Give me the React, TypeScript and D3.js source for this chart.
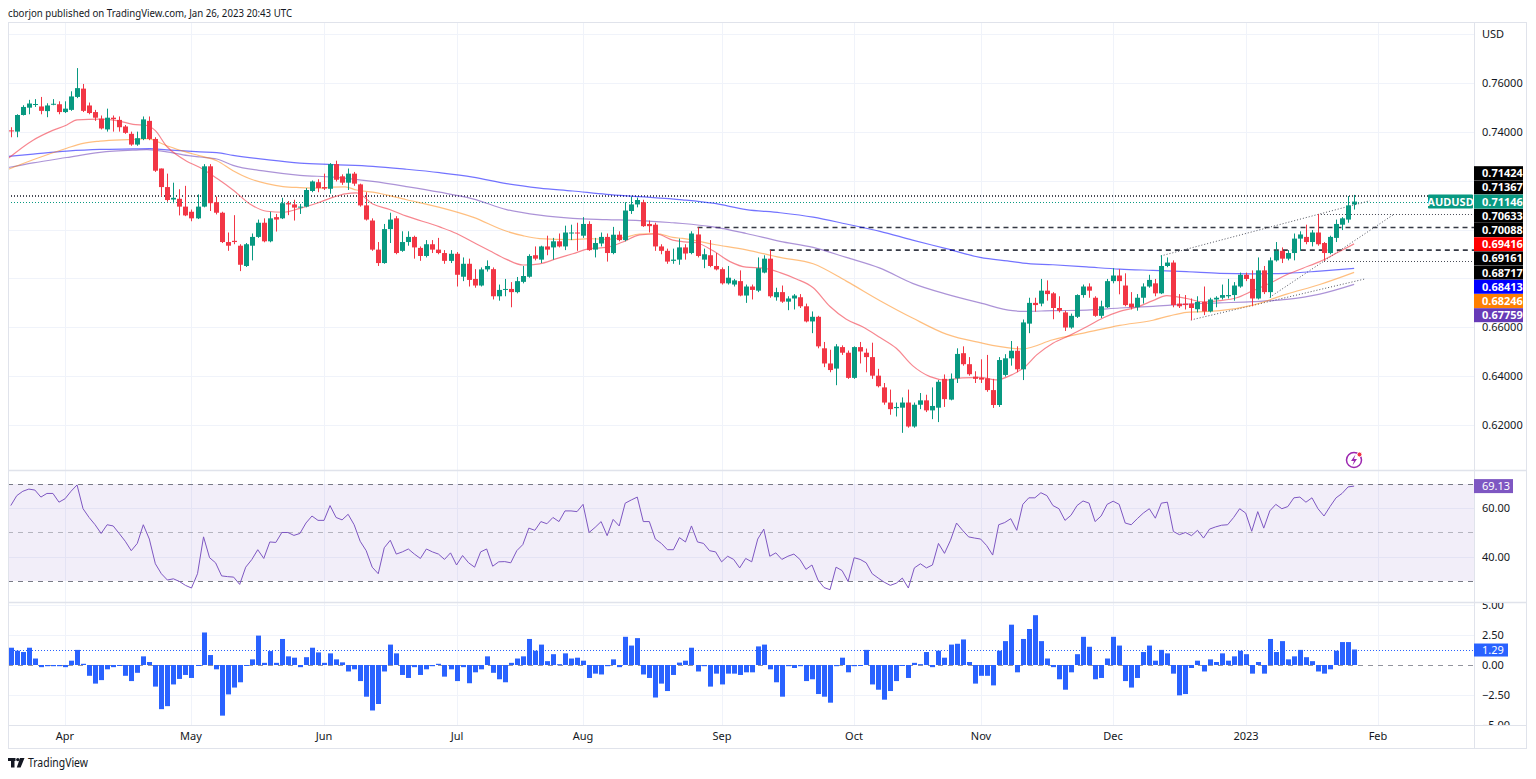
import React from 'react';
import * as d3 from 'd3';

// ---------------- DATA ----------------
const opens = [
0.7406,0.7401,0.7469,0.7499,0.7512,0.7504,0.7485,0.7512,0.7513,0.7481,
0.7490,0.7543,0.7577,0.7508,0.7481,0.7454,0.7410,0.7458,0.7449,0.7422,
0.7392,0.7348,0.7371,0.7445,0.7371,0.7250,0.7174,0.7123,0.7126,0.7094,
0.7073,0.7046,0.7094,0.7259,0.7112,0.7069,0.6949,0.6954,0.6934,0.6851,
0.6934,0.6970,0.7028,0.6952,0.7051,0.7046,0.7108,0.7103,0.7091,0.7094,
0.7158,0.7194,0.7174,0.7167,0.7268,0.7218,0.7192,0.7229,0.7185,0.7099,
0.7037,0.6918,0.6863,0.7002,0.7046,0.6913,0.6949,0.6970,0.6925,0.6892,
0.6940,0.6918,0.6904,0.6872,0.6901,0.6807,0.6860,0.6798,0.6771,0.6837,
0.6838,0.6727,0.6755,0.6757,0.6744,0.6786,0.6807,0.6895,0.6877,0.6931,
0.6927,0.6952,0.6931,0.6985,0.6988,0.6975,0.7023,0.6918,0.6943,0.6970,
0.6904,0.6979,0.6957,0.7076,0.7103,0.7112,0.7023,0.7020,0.6931,0.6913,
0.6872,0.6877,0.6927,0.6904,0.6980,0.6877,0.6895,0.6851,0.6838,0.6780,
0.6775,0.6789,0.6730,0.6767,0.6750,0.6824,0.6881,0.6723,0.6744,0.6705,
0.6718,0.6723,0.6686,0.6624,0.6643,0.6514,0.6452,0.6431,0.6519,0.6496,
0.6393,0.6519,0.6496,0.6478,0.6402,0.6354,0.6292,0.6269,0.6271,0.6292,
0.6194,0.6283,0.6301,0.6260,0.6271,0.6389,0.6304,0.6391,0.6494,0.6449,
0.6398,0.6393,0.6391,0.6343,0.6282,0.6405,0.6473,0.6504,0.6428,0.6615,
0.6700,0.6697,0.6750,0.6739,0.6679,0.6661,0.6599,0.6643,0.6732,0.6767,
0.6721,0.6647,0.6682,0.6789,0.6812,0.6771,0.6697,0.6682,0.6721,0.6767,
0.6780,0.6739,0.6851,0.6865,0.6697,0.6697,0.6697,0.6674,0.6704,0.6665,
0.6714,0.6721,0.6727,0.6732,0.6767,0.6815,0.6798,0.6718,0.6833,0.6744,
0.6874,0.6913,0.6881,0.6904,0.6963,0.6970,0.6949,0.6988,0.6945,0.6904,
0.6966,0.7020,0.7041,0.7103];

const highs = [
0.7419,0.7472,0.7509,0.7531,0.7534,0.7543,0.7517,0.7534,0.7525,0.7525,
0.7566,0.7661,0.7596,0.7520,0.7490,0.7467,0.7495,0.7467,0.7463,0.7428,
0.7401,0.7401,0.7463,0.7463,0.7378,0.7250,0.7229,0.7192,0.7165,0.7179,
0.7082,0.7144,0.7268,0.7268,0.7135,0.7073,0.6988,0.7059,0.6940,0.6945,
0.6984,0.7041,0.7046,0.7073,0.7064,0.7130,0.7117,0.7122,0.7105,0.7170,
0.7201,0.7206,0.7229,0.7272,0.7282,0.7226,0.7250,0.7236,0.7188,0.7153,
0.7046,0.6949,0.7023,0.7069,0.7055,0.6993,0.6993,0.6975,0.6931,0.6957,
0.6957,0.6966,0.6916,0.6916,0.6908,0.6886,0.6881,0.6838,0.6845,0.6874,
0.6845,0.6775,0.6798,0.6785,0.6806,0.6851,0.6899,0.6931,0.6934,0.6975,
0.6966,0.6984,0.7016,0.7020,0.7028,0.7051,0.7034,0.6966,0.6988,0.6984,
0.7011,0.6993,0.7112,0.7135,0.7131,0.7122,0.7037,0.7028,0.6940,0.6922,
0.6922,0.6963,0.6940,0.6993,0.7009,0.6922,0.6957,0.6904,0.6845,0.6851,
0.6798,0.6833,0.6775,0.6775,0.6886,0.6895,0.6916,0.6762,0.6771,0.6727,
0.6736,0.6736,0.6697,0.6665,0.6647,0.6540,0.6508,0.6531,0.6526,0.6505,
0.6522,0.6540,0.6513,0.6537,0.6430,0.6372,0.6345,0.6292,0.6313,0.6345,
0.6292,0.6331,0.6324,0.6354,0.6384,0.6407,0.6411,0.6514,0.6522,0.6478,
0.6420,0.6469,0.6487,0.6389,0.6478,0.6490,0.6544,0.6522,0.6632,0.6721,
0.6721,0.6798,0.6792,0.6744,0.6727,0.6668,0.6656,0.6735,0.6775,0.6780,
0.6727,0.6709,0.6798,0.6842,0.6838,0.6821,0.6744,0.6736,0.6780,0.6815,
0.6798,0.6895,0.6886,0.6874,0.6736,0.6732,0.6718,0.6727,0.6767,0.6721,
0.6727,0.6775,0.6798,0.6785,0.6824,0.6824,0.6833,0.6886,0.6851,0.6886,
0.6949,0.6927,0.6916,0.6984,0.6993,0.7020,0.6998,0.7064,0.6949,0.6975,
0.7041,0.7051,0.7137,0.7142];

const lows = [
0.7378,0.7378,0.7467,0.7472,0.7502,0.7472,0.7460,0.7509,0.7472,0.7477,
0.7486,0.7538,0.7481,0.7472,0.7445,0.7410,0.7401,0.7401,0.7401,0.7392,
0.7343,0.7343,0.7366,0.7366,0.7236,0.7135,0.7114,0.7108,0.7058,0.7055,
0.7034,0.7043,0.7091,0.7076,0.7062,0.6945,0.6913,0.6940,0.6830,0.6847,
0.6874,0.6966,0.6948,0.6948,0.6992,0.7043,0.7059,0.7037,0.7064,0.7091,
0.7153,0.7153,0.7162,0.7147,0.7197,0.7183,0.7162,0.7179,0.7094,0.7037,
0.6913,0.6851,0.6860,0.6945,0.6899,0.6909,0.6934,0.6881,0.6872,0.6886,
0.6904,0.6899,0.6860,0.6863,0.6767,0.6789,0.6767,0.6762,0.6767,0.6828,
0.6714,0.6709,0.6727,0.6682,0.6739,0.6780,0.6803,0.6874,0.6863,0.6895,
0.6877,0.6927,0.6916,0.6957,0.6913,0.6966,0.6913,0.6886,0.6931,0.6869,
0.6899,0.6952,0.6952,0.7064,0.7091,0.7011,0.6988,0.6913,0.6899,0.6860,
0.6860,0.6856,0.6877,0.6899,0.6886,0.6842,0.6846,0.6833,0.6775,0.6775,
0.6767,0.6727,0.6700,0.6714,0.6744,0.6821,0.6721,0.6709,0.6700,0.6670,
0.6673,0.6679,0.6620,0.6576,0.6514,0.6437,0.6416,0.6363,0.6487,0.6389,
0.6389,0.6452,0.6416,0.6389,0.6354,0.6283,0.6242,0.6235,0.6168,0.6189,
0.6189,0.6265,0.6253,0.6224,0.6212,0.6274,0.6301,0.6372,0.6443,0.6402,
0.6372,0.6372,0.6336,0.6270,0.6274,0.6398,0.6443,0.6416,0.6384,0.6576,
0.6664,0.6686,0.6709,0.6633,0.6661,0.6585,0.6594,0.6638,0.6721,0.6721,
0.6643,0.6638,0.6679,0.6780,0.6735,0.6686,0.6673,0.6668,0.6697,0.6762,
0.6727,0.6736,0.6846,0.6682,0.6679,0.6673,0.6629,0.6661,0.6650,0.6661,
0.6682,0.6714,0.6718,0.6709,0.6762,0.6789,0.6686,0.6714,0.6736,0.6721,
0.6869,0.6863,0.6874,0.6874,0.6913,0.6940,0.6931,0.6934,0.6872,0.6899,
0.6949,0.6998,0.7028,0.7082];

const closes = [
0.7404,0.7469,0.7502,0.7516,0.7514,0.7486,0.7508,0.7515,0.7481,0.7495,
0.7545,0.7579,0.7486,0.7477,0.7458,0.7414,0.7458,0.7452,0.7419,0.7396,
0.7348,0.7374,0.7451,0.7371,0.7241,0.7174,0.7121,0.7130,0.7094,0.7058,
0.7046,0.7094,0.7259,0.7108,0.7069,0.6949,0.6934,0.6949,0.6856,0.6940,
0.6970,0.7028,0.6952,0.7046,0.7041,0.7108,0.7103,0.7090,0.7094,0.7162,
0.7197,0.7170,0.7168,0.7268,0.7204,0.7192,0.7229,0.7188,0.7099,0.7041,
0.6918,0.6863,0.7002,0.7041,0.6904,0.6949,0.6970,0.6927,0.6892,0.6940,
0.6918,0.6904,0.6872,0.6901,0.6815,0.6860,0.6794,0.6771,0.6837,0.6851,
0.6727,0.6753,0.6757,0.6744,0.6789,0.6810,0.6892,0.6881,0.6931,0.6918,
0.6952,0.6931,0.6988,0.6988,0.6984,0.7023,0.6916,0.6945,0.6970,0.6904,
0.6979,0.6957,0.7078,0.7103,0.7121,0.7014,0.7014,0.6931,0.6913,0.6869,
0.6877,0.6927,0.6902,0.6984,0.6892,0.6899,0.6851,0.6837,0.6780,0.6803,
0.6792,0.6730,0.6767,0.6753,0.6842,0.6881,0.6727,0.6744,0.6705,0.6718,
0.6730,0.6686,0.6624,0.6643,0.6522,0.6452,0.6425,0.6522,0.6496,0.6393,
0.6519,0.6501,0.6478,0.6402,0.6359,0.6292,0.6265,0.6274,0.6292,0.6194,
0.6283,0.6301,0.6260,0.6278,0.6377,0.6306,0.6389,0.6491,0.6449,0.6408,
0.6389,0.6386,0.6343,0.6282,0.6466,0.6473,0.6504,0.6428,0.6620,0.6700,
0.6691,0.6750,0.6736,0.6679,0.6668,0.6599,0.6647,0.6732,0.6767,0.6750,
0.6647,0.6686,0.6789,0.6812,0.6789,0.6691,0.6682,0.6721,0.6767,0.6794,
0.6739,0.6851,0.6865,0.6691,0.6686,0.6691,0.6679,0.6704,0.6665,0.6714,
0.6721,0.6732,0.6732,0.6771,0.6815,0.6798,0.6718,0.6833,0.6744,0.6874,
0.6913,0.6881,0.6904,0.6963,0.6980,0.6949,0.6988,0.6940,0.6904,0.6970,
0.7023,0.7046,0.7099,0.71146];

// moving averages sampled along the bars: [bar index, value]
const maRed: [number, number][] = [
[-0.5,0.7290],[3.7,0.7366],[6.5,0.7401],[9.3,0.7428],[11,0.7449],[14.8,0.7452],[17.6,0.7446],[20.3,0.7431],[22.6,0.7426],[24,0.7405],
[25.9,0.7340],[27.6,0.7305],[29.2,0.7280],[31.4,0.7254],[34.2,0.7210],[37,0.7160],[39.7,0.7105],[42.5,0.7075],[45.3,0.7071],[48,0.7087],
[50.8,0.7108],[53.6,0.7133],[55.5,0.7146],[57.4,0.7150],[60.1,0.7105],[62.9,0.7082],[65.7,0.7055],[71.2,0.7011],[74,0.6984],[76.7,0.6949],
[79.5,0.6913],[82.3,0.6878],[85,0.6855],[87.8,0.6860],[90.6,0.6881],[93.3,0.6901],[96.1,0.6922],[98.9,0.6927],[101.6,0.6949],[104.4,0.6978],
[107.2,0.6982],[109.9,0.6957],[111.9,0.6950],[113.8,0.6946],[116.6,0.6913],[119.4,0.6869],[122.1,0.6846],[124.9,0.6842],[127.7,0.6824],[130.4,0.6798],
[133.2,0.6762],[136,0.6685],[138.7,0.6633],[141.4,0.6602],[144.3,0.6558],[147,0.6514],[149.7,0.6443],[152.6,0.6398],[155.3,0.6384],[158,0.6393],
[160.9,0.6395],[163.6,0.6385],[166.3,0.6407],[168.3,0.6437],[170.3,0.6487],[173,0.6535],[175.8,0.6567],[178.6,0.6602],[181.3,0.6638],[184.1,0.6665],
[186.9,0.6682],[189.6,0.6709],[191.9,0.6730],[195.2,0.6718],[197.9,0.6704],[200.7,0.6709],[203.5,0.6721],[206.2,0.6750],[209,0.6780],[211.8,0.6815],
[214.5,0.6842],[217.3,0.6869],[220.1,0.6904],[223,0.69416]];

const maOrange: [number, number][] = [
[-0.4,0.7247],[3.7,0.7286],[9.3,0.7333],[12,0.7353],[14.8,0.7362],[20.3,0.7369],[22.6,0.7372],[25.9,0.7343],[28.6,0.7321],[31.4,0.7302],
[34.2,0.7282],[36.9,0.7241],[39.7,0.7208],[42.5,0.7188],[45.2,0.7176],[48,0.7172],[50.8,0.7170],[53.5,0.7174],[55.5,0.7175],[57.4,0.7162],
[60.1,0.7153],[65.7,0.7122],[71.2,0.7091],[76.7,0.7051],[82.3,0.6993],[85,0.6975],[87.8,0.6963],[93.3,0.6959],[96.1,0.6963],[98.9,0.6960],
[101.6,0.6966],[104.4,0.6982],[107.2,0.6984],[109.9,0.6968],[111.5,0.6964],[116.6,0.6940],[122.1,0.6917],[127.7,0.6886],[133.2,0.6860],[138.7,0.6789],
[144.3,0.6709],[149.7,0.6638],[155.3,0.6572],[160.9,0.6537],[166.3,0.6514],[168,0.6512],[173,0.6549],[178.6,0.6579],[184.1,0.6608],[189.6,0.6629],
[192.4,0.6647],[195.2,0.6661],[200.7,0.6668],[206.2,0.6691],[211.8,0.6736],[217.3,0.6775],[223,0.68246]];

const maBlue: [number, number][] = [
[-0.4,0.7300],[3.7,0.7309],[9.3,0.7321],[14.8,0.7328],[20.3,0.7330],[23.1,0.7331],[25.9,0.7326],[31.4,0.7318],[34.2,0.7315],[36.9,0.7304],
[42.5,0.7286],[48,0.7272],[53.5,0.7266],[60.1,0.7259],[65.7,0.7247],[71.2,0.7233],[76.7,0.7215],[82.3,0.7188],[87.8,0.7170],[93.3,0.7158],
[98.9,0.7144],[104.4,0.7135],[111.5,0.7122],[116.6,0.7108],[122.1,0.7082],[127.7,0.7069],[133.2,0.7051],[138.7,0.7023],[144.3,0.6993],[149.7,0.6957],
[155.3,0.6922],[160.9,0.6886],[166.3,0.6869],[168,0.6863],[173,0.6856],[178.6,0.6847],[184.1,0.6838],[189.6,0.6833],[195.2,0.6828],[200.7,0.6821],
[206.2,0.6819],[211.8,0.6821],[217.3,0.6830],[223,0.68413]];

const maPurple: [number, number][] = [
[-0.4,0.7254],[3.7,0.7273],[9.3,0.7295],[14.8,0.7316],[20.3,0.7325],[22.6,0.7327],[25.9,0.7318],[28.6,0.7306],[31.4,0.7297],[34.2,0.7289],
[36.9,0.7263],[42.5,0.7238],[48,0.7222],[53.5,0.7215],[60.1,0.7197],[65.7,0.7176],[71.2,0.7153],[76.7,0.7126],[82.3,0.7082],[87.8,0.7059],
[93.3,0.7046],[98.9,0.7041],[104.4,0.7037],[109.9,0.7028],[111.5,0.7025],[116.6,0.7011],[122.1,0.6984],[127.7,0.6952],[133.2,0.6927],[138.7,0.6886],
[144.3,0.6842],[149.7,0.6780],[155.3,0.6736],[160.9,0.6700],[166.3,0.6668],[168,0.6665],[173,0.6668],[178.6,0.6670],[184.1,0.6679],[189.6,0.6686],
[195.2,0.6695],[200.7,0.6700],[206.2,0.6705],[211.8,0.6714],[217.3,0.6736],[223,0.67759]];

const rsi = [
61.1,65.2,67.0,67.9,67.5,64.6,66.1,66.1,62.5,63.9,
67.0,69.6,59.8,56.2,53.2,49.6,53.2,52.7,49.6,46.4,
42.5,45.5,53.2,47.3,37.1,33.0,30.4,30.9,29.8,28.2,
27.1,33.0,48.2,39.6,37.5,32.1,31.8,31.6,28.6,35.7,
38.8,42.9,39.3,46.1,45.9,50.0,50.0,48.8,49.6,53.9,
56.8,55.0,55.0,61.1,56.2,55.2,57.5,53.2,46.4,42.5,
35.7,33.0,43.7,46.8,41.1,42.0,43.2,41.1,39.3,43.2,
42.0,41.1,38.9,41.6,36.6,40.5,37.5,35.7,42.0,43.2,
36.1,37.9,38.0,37.5,42.5,45.0,51.8,50.9,54.5,53.6,
56.2,54.5,58.9,58.9,58.6,61.6,50.0,52.1,54.5,48.7,
55.4,52.7,62.1,63.4,64.6,54.5,54.5,47.3,45.5,42.9,
42.9,47.9,46.1,52.7,46.1,45.5,42.5,42.0,37.9,40.2,
38.9,35.4,39.3,37.9,47.3,51.4,40.2,41.6,38.9,40.2,
41.1,38.9,34.8,36.6,30.4,27.3,26.4,35.7,34.3,29.8,
39.6,38.9,37.5,33.0,31.2,29.5,28.2,29.1,31.2,27.1,
35.4,37.1,35.4,36.6,45.5,41.4,46.8,53.9,50.9,48.2,
47.7,47.3,44.6,40.7,53.2,54.1,55.7,50.9,61.6,64.3,
64.3,66.4,65.2,61.1,59.8,55.0,57.1,61.1,63.0,62.1,
54.5,56.8,61.6,62.9,61.6,53.9,53.2,55.7,58.0,59.8,
55.9,62.1,62.5,50.4,49.1,50.0,48.7,50.9,47.7,51.4,
52.3,53.0,53.2,56.2,59.8,58.0,50.5,58.6,51.8,58.9,
61.6,59.8,60.7,64.3,64.6,62.5,64.3,59.8,56.8,60.7,
64.3,66.1,68.8,69.13];

const hist = [
1.44,1.19,1.08,1.44,0.54,-0.18,-0.1,-0.1,-0.1,-0.18,
0.36,1.26,0.1,-0.9,-1.55,-1.26,-0.36,-0.18,-0.04,-0.9,
-1.34,-0.65,0.72,0.25,-1.8,-3.68,-3.43,-1.62,-1.16,-0.83,
-1.08,-0.04,2.71,0.83,-0.36,-4.22,-2.45,-1.88,-1.44,-0.04,
0.47,2.45,0.18,1.16,0.18,2.17,0.72,0.61,-0.18,0.65,
1.44,1.05,0.18,0.97,0.47,0.22,-0.54,-0.36,-1.34,-2.64,
-3.79,-3.25,-0.54,1.7,0.97,-0.83,-1.08,-0.18,-0.83,-0.36,
-0.1,0.1,-0.97,-0.36,-1.34,-0.18,-1.52,-0.61,-0.36,0.72,
-0.65,-1.19,-1.44,0.18,0.54,0.72,2.17,1.19,1.7,0.32,
0.9,0.07,0.97,0.54,0.61,0.36,-1.08,-0.72,-0.79,-0.1,
0.47,-0.18,2.35,1.62,2.24,-0.79,-1.08,-2.71,-1.55,-2.17,
-0.83,0.2,0.36,1.44,-0.54,-0.1,-1.8,-0.72,-1.62,-0.72,
-0.72,-0.83,-0.61,-0.61,1.55,1.7,-0.36,-1.44,-2.64,-0.1,
-0.25,-0.1,-1.34,-1.19,-2.42,-2.64,-3.14,-0.1,0.61,-0.61,
-0.1,-0.04,1.26,-1.62,-2.06,-2.89,-2.17,-1.34,-0.04,-1.08,
0.18,0.07,1.08,-0.18,1.19,0.61,1.7,1.77,2.13,0.25,
-1.55,-0.9,-0.9,-1.7,1.19,1.99,3.36,-0.61,2.17,3.0,
4.15,1.99,0.54,-0.18,-1.19,-2.06,-0.61,0.9,2.35,1.52,
-1.19,-1.08,0.54,2.35,1.62,-1.34,-1.88,-1.08,1.08,1.62,
0.36,1.26,0.97,-0.72,-2.53,-2.42,-0.25,0.36,-0.54,0.47,
0.25,0.97,0.36,0.72,1.19,0.9,-0.72,0.25,-0.72,2.17,
1.08,1.99,0.47,0.72,1.26,0.65,0.32,-0.54,-0.72,-0.36,
1.19,1.91,1.91,1.29];

// horizontal levels: [price, first bar]  (-1 = whole chart)
const dottedLevels: [number, number][] = [[0.71424, -1], [0.71367, -1], [0.70633, 217], [0.68717, 218]];
const dashedLevels: [number, number][] = [[0.70088, 114], [0.69161, 126]];
// trend lines: two [bar, price] points each
const trendLines: [number, number][][] = [
  [[190.9, 0.6892], [225.6, 0.7118]],
  [[195.9, 0.6630], [224.8, 0.6798]],
  [[209.0, 0.6723], [229.7, 0.7064]],
];
const priceTicks = [0.62, 0.64, 0.66, 0.68, 0.70, 0.72, 0.74, 0.76, 0.78];
const rsiTicks = [60, 40];
const rsiLevels = [70, 50, 30];
const histTicks = [5, 2.5, 0, -2.5, -5];
const firstDay = new Date(2022, 2, 21);
const symbol = 'AUDUSD';
const title = 'cborjon published on TradingView.com, Jan 26, 2023 20:43 UTC';

// ---------------- LAYOUT ----------------
const W = 1536, H = 779;
const LEFT = 8, AXIS_X = 1474, RIGHT = 1527;
const TOP = 22, MAIN_B = 470, RSI_B = 602, HIST_B = 725, FRAME_B = 749;
const FONT = "'Noto Sans', 'DejaVu Sans', sans-serif";
const UP = '#089981', DOWN = '#F23645';
const GRID = '#f0f3fa', BORDER = '#e0e3eb', TEXT = '#131722';

const x = d3.scaleLinear().domain([-0.46, 242.9]).range([LEFT, AXIS_X]);
const y = d3.scaleLinear().domain([0.60159, 0.78497]).range([MAIN_B, TOP]);
const yR = d3.scaleLinear().domain([21.34, 75.77]).range([RSI_B, MAIN_B]);
const yH = d3.scaleLinear().domain([-5, 5.25]).range([HIST_B, RSI_B]);

const days: Date[] = (() => {
  const out: Date[] = [];
  const d = new Date(firstDay);
  while (out.length < 260) {
    const wd = d.getDay();
    if (wd !== 0 && wd !== 6) out.push(new Date(d));
    d.setDate(d.getDate() + 1);
  }
  return out;
})();
const monthTicks = days
  .map((d, i) => ({ d, i }))
  .filter(({ d, i }) => i > 0 && d.getMonth() !== days[i - 1].getMonth() && x(i) < AXIS_X - 15);
const fmtMonth = d3.timeFormat('%b');
const fmtYear = d3.timeFormat('%Y');

function App() {
  const N = closes.length;
  const last = N - 1;
  const lastClose = closes[last];

  const maLine = d3.line<[number, number]>().x(d => x(d[0])).y(d => y(d[1])).curve(d3.curveMonotoneX);
  const rsiLine = d3.line<number>().x((_, i) => x(i)).y(d => yR(d));

  type Lbl = { v: number; bg: string; fg: string };
  const labels: Lbl[] = [
    ...dottedLevels.map(l => ({ v: l[0], bg: '#000000', fg: '#ffffff' })),
    ...dashedLevels.map(l => ({ v: l[0], bg: '#000000', fg: '#ffffff' })),
    { v: maRed[maRed.length - 1][1], bg: '#ff0000', fg: '#ffffff' },
    { v: maBlue[maBlue.length - 1][1], bg: '#0000ff', fg: '#ffffff' },
    { v: maOrange[maOrange.length - 1][1], bg: '#ff7f00', fg: '#ffffff' },
    { v: maPurple[maPurple.length - 1][1], bg: '#673ab7', fg: '#ffffff' },
  ];
  const LH = 14.2;
  const anchorY = y(lastClose);
  const above = labels.filter(l => l.v > lastClose).sort((a, b) => a.v - b.v);
  const below = labels.filter(l => l.v <= lastClose).sort((a, b) => b.v - a.v);
  const placed: { l: Lbl; py: number }[] = [];
  let prev = anchorY;
  above.forEach(l => { const py = Math.min(y(l.v), prev - LH); placed.push({ l, py }); prev = py; });
  prev = anchorY;
  below.forEach(l => { const py = Math.max(y(l.v), prev + LH); placed.push({ l, py }); prev = py; });
  const allLabelYs = [anchorY, ...placed.map(p => p.py)];

  const visiblePriceTicks = priceTicks.filter(t => y(t) > TOP + 25 && allLabelYs.every(py => Math.abs(py - y(t)) > 11));

  const cx = (i: number) => Math.round(x(i));

  return (
    <svg width={W} height={H} style={{ position: 'absolute', left: 0, top: 0, background: '#fff' }} fontFamily={FONT}>
      <defs>
        <clipPath id="mainClip"><rect x={LEFT} y={TOP} width={AXIS_X - LEFT} height={MAIN_B - TOP} /></clipPath>
        <clipPath id="histAxisClip"><rect x={AXIS_X} y={RSI_B + 1} width={RIGHT - AXIS_X} height={HIST_B - RSI_B - 1} /></clipPath>
      </defs>
      <rect x={0} y={0} width={W} height={H} fill="#ffffff" />
      <text x={8} y={17} fontSize={11} fill={TEXT} textLength={284} lengthAdjust="spacingAndGlyphs">{title}</text>

      {/* grid */}
      {monthTicks.map(t => (
        <line key={'vg' + t.i} x1={cx(t.i) + 0.5} x2={cx(t.i) + 0.5} y1={TOP} y2={HIST_B} stroke={GRID} strokeWidth={1} />
      ))}
      {priceTicks.map(t => (
        <line key={'pg' + t} x1={LEFT} x2={AXIS_X} y1={Math.round(y(t)) + 0.5} y2={Math.round(y(t)) + 0.5} stroke={GRID} />
      ))}
      {rsiTicks.map(t => (
        <line key={'rg' + t} x1={LEFT} x2={AXIS_X} y1={Math.round(yR(t)) + 0.5} y2={Math.round(yR(t)) + 0.5} stroke={GRID} />
      ))}
      {histTicks.filter(t => t !== 0).map(t => (
        <line key={'hg' + t} x1={LEFT} x2={AXIS_X} y1={Math.round(yH(t)) + 0.5} y2={Math.round(yH(t)) + 0.5} stroke={GRID} />
      ))}

      {/* main pane */}
      <g clipPath="url(#mainClip)">
        {dottedLevels.map(([p, from]) => (
          <line key={'dl' + p} x1={from < 0 ? LEFT : x(from)} x2={AXIS_X} y1={Math.round(y(p)) + 0.5} y2={Math.round(y(p)) + 0.5}
            stroke="#4a4d57" strokeWidth={1} strokeDasharray="1 2" />
        ))}
        {dashedLevels.map(([p, from]) => (
          <line key={'dd' + p} x1={x(from)} x2={AXIS_X} y1={y(p)} y2={y(p)}
            stroke="#363a45" strokeWidth={1.6} strokeDasharray="5 4" />
        ))}
        <line x1={LEFT} x2={AXIS_X} y1={Math.round(y(lastClose)) + 0.5} y2={Math.round(y(lastClose)) + 0.5}
          stroke={UP} strokeWidth={1} strokeDasharray="1 2" />
        {trendLines.map((tl, k) => (
          <line key={'tl' + k} x1={x(tl[0][0])} y1={y(tl[0][1])} x2={x(tl[1][0])} y2={y(tl[1][1])}
            stroke="#50535e" strokeWidth={1} strokeDasharray="1 2" />
        ))}
        <path d={maLine(maBlue) || ''} fill="none" stroke="#0000ff" strokeOpacity={0.55} strokeWidth={1.2} />
        <path d={maLine(maPurple) || ''} fill="none" stroke="#673ab7" strokeOpacity={0.55} strokeWidth={1.2} />
        <path d={maLine(maOrange) || ''} fill="none" stroke="#ff7f00" strokeOpacity={0.5} strokeWidth={1.2} />
        <path d={maLine(maRed) || ''} fill="none" stroke="#f23645" strokeOpacity={0.6} strokeWidth={1.2} />
        {closes.map((c, i) => {
          const o = opens[i];
          const col = c >= o ? UP : DOWN;
          const top = y(Math.max(o, c));
          const bot = y(Math.min(o, c));
          const h = Math.max(1, bot - top);
          return (
            <g key={'c' + i}>
              <line x1={cx(i) + 0.5} x2={cx(i) + 0.5} y1={y(highs[i])} y2={y(lows[i])} stroke={col} strokeWidth={1} />
              <rect x={cx(i) - 2} y={top} width={5} height={h} fill={col} />
            </g>
          );
        })}
      </g>

      {/* RSI pane */}
      <rect x={LEFT} y={yR(70)} width={AXIS_X - LEFT} height={yR(30) - yR(70)} fill="#7e57c2" fillOpacity={0.1} />
      {rsiLevels.map(l => (
        <line key={'rl' + l} x1={LEFT} x2={AXIS_X} y1={Math.round(yR(l)) + 0.5} y2={Math.round(yR(l)) + 0.5}
          stroke="#787b86" strokeOpacity={l === 50 ? 0.5 : 1} strokeDasharray="5 5" />
      ))}
      <path d={rsiLine(rsi) || ''} fill="none" stroke="#7e57c2" strokeWidth={1} />

      {/* histogram pane */}
      <line x1={LEFT} x2={AXIS_X} y1={Math.round(yH(0)) + 0.5} y2={Math.round(yH(0)) + 0.5} stroke="#787b86" strokeOpacity={0.8} strokeDasharray="5 5" />
      {hist.map((v, i) => (
        <rect key={'h' + i} x={cx(i) - 2} y={Math.min(yH(v), yH(0))} width={5} height={Math.max(1, Math.abs(yH(v) - yH(0)))} fill="#2962ff" />
      ))}
      <line x1={LEFT} x2={AXIS_X} y1={Math.round(yH(hist[last])) + 0.5} y2={Math.round(yH(hist[last])) + 0.5} stroke="#2962ff" strokeDasharray="1 2" />

      {/* frame & separators */}
      <rect x={LEFT + 0.5} y={TOP + 0.5} width={RIGHT - LEFT - 1} height={FRAME_B - TOP - 1} fill="none" stroke={BORDER} />
      <line x1={AXIS_X + 0.5} x2={AXIS_X + 0.5} y1={TOP} y2={FRAME_B} stroke={BORDER} />
      <line x1={LEFT} x2={RIGHT} y1={MAIN_B + 0.5} y2={MAIN_B + 0.5} stroke={BORDER} strokeWidth={1.5} />
      <line x1={LEFT} x2={RIGHT} y1={RSI_B + 0.5} y2={RSI_B + 0.5} stroke={BORDER} strokeWidth={1.5} />
      <line x1={LEFT} x2={RIGHT} y1={HIST_B + 0.5} y2={HIST_B + 0.5} stroke={BORDER} />

      {/* price axis */}
      <text x={1482} y={38} fontSize={11} fill={TEXT}>USD</text>
      {visiblePriceTicks.map(t => (
        <text key={'pt' + t} x={1482} y={y(t) + 4} fontSize={11} fill={TEXT}>{t.toFixed(5)}</text>
      ))}
      {placed.map(({ l, py }) => (
        <g key={'lb' + l.v}>
          <rect x={AXIS_X} y={py - 7} width={49} height={14} fill={l.bg} />
          <text x={1482} y={py + 4} fontSize={11} fontWeight={700} fill={l.fg}>{l.v.toFixed(5)}</text>
        </g>
      ))}
      <rect x={AXIS_X} y={anchorY - 7} width={49} height={14} fill={UP} />
      <text x={1482} y={anchorY + 4} fontSize={11} fontWeight={700} fill="#fff">{lastClose.toFixed(5)}</text>
      <rect x={1428} y={anchorY - 7} width={45} height={14} rx={1} fill={UP} />
      <text x={1450.5} y={anchorY + 4} fontSize={11} fontWeight={700} fill="#fff" textAnchor="middle">{symbol}</text>

      {/* lightning icon */}
      <g>
        <circle cx={1354} cy={460} r={7.5} fill="#fff" stroke="#9c27b0" strokeWidth={1.5} />
        <path d="M1355.5,454.5 L1351,461 L1354,461 L1352.5,465.5 L1357,459 L1354,459 Z" fill="#9c27b0" />
        <circle cx={1359.5} cy={454.5} r={2.4} fill="#f23645" stroke="#fff" strokeWidth={0.8} />
      </g>

      {/* RSI axis */}
      {rsiTicks.map(t => (
        <text key={'rt' + t} x={1482} y={yR(t) + 4} fontSize={11} fill={TEXT}>{t.toFixed(2)}</text>
      ))}
      <rect x={AXIS_X} y={yR(rsi[last]) - 7} width={39} height={14} fill="#7e57c2" />
      <text x={1482} y={yR(rsi[last]) + 4} fontSize={11} fill="#fff">{rsi[last].toFixed(2)}</text>

      {/* histogram axis */}
      <g clipPath="url(#histAxisClip)">
        {histTicks.map(t => (
          <text key={'ht' + t} x={1482} y={yH(t) + 4} fontSize={11} fill={TEXT}>{t < 0 ? '\u2212' + (-t).toFixed(2) : t.toFixed(2)}</text>
        ))}
      </g>
      <rect x={AXIS_X} y={yH(hist[last]) - 6} width={34} height={13} fill="#2962ff" />
      <text x={1482} y={yH(hist[last]) + 4} fontSize={11} fill="#fff">{hist[last].toFixed(2)}</text>

      {/* time axis */}
      {monthTicks.map(t => (
        <text key={'mt' + t.i} x={cx(t.i)} y={740} fontSize={11} fill={TEXT} textAnchor="middle">
          {t.d.getMonth() === 0 ? fmtYear(t.d) : fmtMonth(t.d)}
        </text>
      ))}

      {/* logo */}
      <g fill="#131722">
        <rect x={8} y={758} width={7.5} height={3} />
        <rect x={11} y={758} width={3.5} height={9.5} />
        <circle cx={17.8} cy={759.6} r={1.7} />
        <path d="M20,758 L24.5,758 L20.6,767.5 L16.8,767.5 Z" />
      </g>
      <text x={28} y={767} fontSize={12} fill="#131722" textLength={60} lengthAdjust="spacingAndGlyphs">TradingView</text>
    </svg>
  );
}

export default App;
